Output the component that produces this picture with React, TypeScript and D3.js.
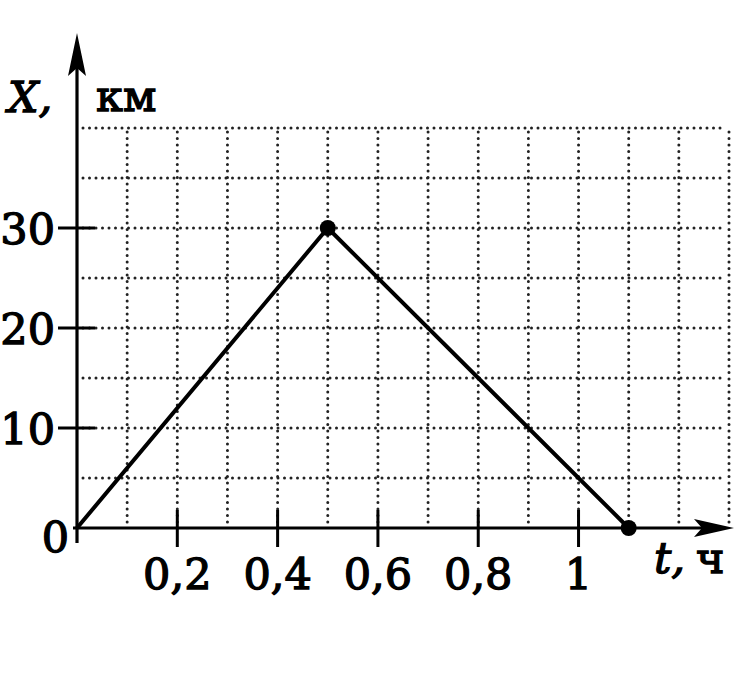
import React from "react";
import * as d3 from "d3";

const times = [0, 0.5, 1.1];
const positions = [0, 30, 0];
const xTicks = [0.2, 0.4, 0.6, 0.8, 1];
const xTickLabels = ["0,2", "0,4", "0,6", "0,8", "1"];
const yTicks = [10, 20, 30];
const yTickLabels = ["10", "20", "30"];
const xGrid = d3.range(1, 14).map((i) => i / 10);
const yGrid = d3.range(1, 9).map((i) => i * 5);

const W = 754;
const H = 677;
const FONT = "'DejaVu Serif', serif";

export default function App() {
  const x = d3.scaleLinear().domain([0, 1.3]).range([77, 729]);
  const y = d3.scaleLinear().domain([0, 40]).range([528, 128]);
  const line = d3
    .line<number>()
    .x((_, i) => x(times[i]))
    .y((d) => y(d));
  const x0 = x(0);
  const y0 = y(0);
  return (
    <svg
      width={W}
      height={H}
      style={{ position: "absolute", left: 0, top: 0, background: "#fff" }}
    >
      <g stroke="#222" strokeWidth={3} strokeLinecap="round" strokeDasharray="0 6.5">
        {yGrid.map((v) => (
          <line key={"h" + v} x1={x0 + 6} x2={x(1.29)} y1={y(v)} y2={y(v)} />
        ))}
        {xGrid.map((v) => (
          <line key={"v" + v} x1={x(v)} x2={x(v)} y1={y(39.6)} y2={y0 - 4} />
        ))}
      </g>
      {/* axes */}
      <line x1={x0} x2={x0} y1={y0 + 15} y2={60} stroke="#000" strokeWidth={3.2} />
      <line x1={x0 - 4} x2={705} y1={y0} y2={y0} stroke="#000" strokeWidth={3.2} />
      <path d={`M${x0},33 L${x0 + 9},76 L${x0},68 L${x0 - 9},76 Z`} fill="#000" />
      <path d={`M734,${y0} L694,${y0 - 9} L702,${y0} L694,${y0 + 9} Z`} fill="#000" />
      {/* ticks */}
      {yTicks.map((v) => (
        <line key={"yt" + v} x1={x0 - 19} x2={x0 + 18} y1={y(v)} y2={y(v)} stroke="#000" strokeWidth={3} />
      ))}
      {xTicks.map((v) => (
        <line key={"xt" + v} x1={x(v)} x2={x(v)} y1={y0 - 18} y2={y0 + 19} stroke="#000" strokeWidth={3} />
      ))}
      {/* data */}
      <path d={line(positions) || ""} fill="none" stroke="#000" strokeWidth={4} strokeLinejoin="round" />
      {[1, 2].map((i) => (
        <circle key={i} cx={x(times[i])} cy={y(positions[i])} r={8} fill="#000" />
      ))}
      {/* labels */}
      <g fontFamily={FONT} fontSize={43} fill="#000" stroke="#000" strokeWidth={1.3}>
        {yTicks.map((v, i) => (
          <text key={"yl" + v} x={55} y={y(v) + 16} textAnchor="end">
            {yTickLabels[i]}
          </text>
        ))}
        <text x={69} y={552} textAnchor="end">0</text>
        {xTicks.map((v, i) => (
          <text key={"xl" + v} x={x(v)} y={589} textAnchor="middle">
            {xTickLabels[i]}
          </text>
        ))}
        <text x={8} y={112} fontStyle="italic">X,</text>
        <text x={96} y={111}>км</text>
        <text x={654} y={573} fontStyle="italic">t,</text>
        <text x={696} y={573}>ч</text>
      </g>
    </svg>
  );
}
